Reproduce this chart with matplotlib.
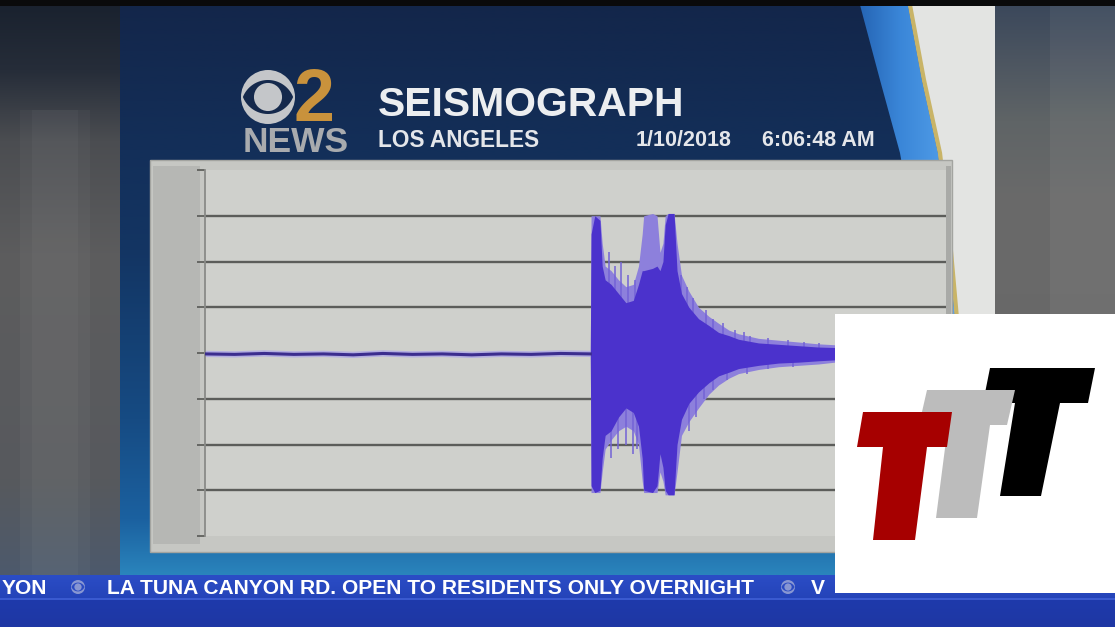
import numpy as np
import matplotlib.pyplot as plt
from matplotlib.patches import Rectangle, Polygon, Circle
from matplotlib.colors import to_rgb

# seismogram, time in s from left edge of the plot, amplitude in grid units
base_t = [0, 4, 8, 12, 16, 20, 24, 28, 32, 36, 40, 44, 48, 52.0]
base_y = [-0.02, -0.03, -0.01, -0.03, -0.02, -0.04, -0.01, -0.03, -0.02,
          -0.04, -0.02, -0.03, -0.01, -0.02]

env_t = [52.0, 52.1, 52.6, 53.3, 53.6, 54.0, 54.8, 55.8, 56.8, 57.8, 58.5,
         59.0, 59.2, 60.4, 61.0, 61.4, 61.8, 62.1, 62.5, 63.3, 63.7, 64.3,
         65.3, 66.6, 68.0, 69.3, 70.7, 72.0, 74.7, 77.4, 80.1, 82.8, 85.0]
outer_hi = [0.05, 3.0, 3.0, 3.0, 2.4, 1.9, 1.8, 1.6, 1.45, 1.5, 1.9,
            2.6, 3.0, 3.05, 3.0, 2.2, 2.4, 3.0, 3.05, 3.05, 2.4, 1.7,
            1.35, 1.0, 0.8, 0.65, 0.5, 0.42, 0.32, 0.28, 0.24, 0.2, 0.18]
outer_lo = [-0.07, -3.05, -3.05, -3.05, -2.6, -2.1, -1.9, -1.7, -1.6, -1.7, -2.0,
            -2.8, -3.05, -3.05, -3.05, -2.6, -2.8, -3.1, -3.1, -3.1, -2.6, -1.8,
            -1.5, -1.2, -0.9, -0.7, -0.55, -0.45, -0.36, -0.3, -0.27, -0.24, -0.2]
core_hi = [0.03, 2.6, 3.0, 2.9, 1.9, 1.6, 1.5, 1.3, 1.1, 1.15, 1.5,
           1.8, 1.8, 1.85, 1.9, 1.8, 2.0, 2.8, 3.05, 3.05, 1.8, 1.3,
           1.0, 0.75, 0.6, 0.45, 0.38, 0.3, 0.22, 0.19, 0.16, 0.13, 0.12]
core_lo = [-0.06, -2.9, -3.05, -3.0, -2.3, -1.8, -1.7, -1.4, -1.2, -1.3, -1.6,
           -2.3, -3.0, -3.05, -2.9, -2.2, -2.5, -3.0, -3.1, -3.1, -2.0, -1.45,
           -1.1, -0.85, -0.65, -0.5, -0.42, -0.34, -0.27, -0.22, -0.2, -0.17, -0.15]

spike_t = [54.5, 55.3, 56.1, 57.1, 58.0, 54.8, 55.8, 56.8, 57.8, 58.3,
           64.3, 65.0, 65.9, 67.6, 68.5, 69.9, 71.5, 72.7, 73.6, 76.0, 78.7,
           80.8, 82.8, 65.3, 66.3, 67.3, 68.6, 70.4, 73.1, 76.0, 79.4]
spike_top = [2.2, 1.9, 2.0, 1.7, 1.6, 0, 0, 0, 0, 0,
             1.7, 1.45, 1.2, 0.95, 0.75, 0.65, 0.5, 0.45, 0.38, 0.32, 0.28,
             0.25, 0.22, 0, 0, 0, 0, 0, 0, 0, 0]
spike_bottom = [0, 0, 0, 0, 0, -2.3, -2.1, -2.0, -2.2, -2.1,
                0, 0, 0, 0, 0, 0, 0, 0, 0, 0, 0,
                0, 0, -1.7, -1.4, -1.0, -0.8, -0.6, -0.45, -0.36, -0.3]

grid_levels = [-3, -2, -1, 1, 2, 3]
tick_levels = [-4, -3, -2, -1, 0, 1, 2, 3, 4]

title = "SEISMOGRAPH"
place = "LOS ANGELES"
date_txt = "1/10/2018"
time_txt = "6:06:48 AM"
ticker_prev = "YON"
ticker_txt = "LA TUNA CANYON RD. OPEN TO RESIDENTS ONLY OVERNIGHT"
ticker_next = "V"

W, H = 1115, 627
FONT = ['Liberation Sans', 'DejaVu Sans']


def vgrad(ax, x0, x1, y0, y1, stops, z=0):
    ys = np.linspace(y0, y1, 300)
    pos = [s[0] for s in stops]
    cols = np.array([to_rgb(s[1]) for s in stops])
    img = np.stack([np.interp(ys, pos, cols[:, k]) for k in range(3)], axis=-1)
    return ax.imshow(img[:, None, :], extent=(x0, x1, y1, y0), aspect='auto',
                     zorder=z, interpolation='bilinear')


def hgrad(ax, x0, x1, y0, y1, stops, z=0):
    xs = np.linspace(x0, x1, 300)
    pos = [s[0] for s in stops]
    cols = np.array([to_rgb(s[1]) for s in stops])
    img = np.stack([np.interp(xs, pos, cols[:, k]) for k in range(3)], axis=-1)
    return ax.imshow(img[None, :, :], extent=(x0, x1, y1, y0), aspect='auto',
                     zorder=z, interpolation='bilinear')


def almond(cx, cy, a, b):
    # two circular arcs meeting at the left and right tips
    r = (a * a + b * b) / (2 * b)
    d = r - b
    th0 = np.arcsin(d / r)
    th = np.linspace(th0, np.pi - th0, 40)
    upper = np.column_stack([cx + r * np.cos(th), cy + d - r * np.sin(th)])
    lower = np.column_stack([cx + r * np.cos(th[::-1]), cy - d + r * np.sin(th[::-1])])
    return np.vstack([upper, lower])


def cbs_eye(ax, cx, cy, r, col, bg, z):
    ax.add_patch(Circle((cx, cy), r, color=col, zorder=z, lw=0))
    ax.add_patch(Polygon(almond(cx, cy, 0.93 * r, 0.63 * r), color=bg, zorder=z + 0.1, lw=0))
    ax.add_patch(Circle((cx, cy), 0.52 * r, color=col, zorder=z + 0.2, lw=0))


fig = plt.figure(figsize=(W / 100, H / 100), dpi=100)

# ---- background (pixel coordinates, y down)
bg = fig.add_axes([0, 0, 1, 1])
bg.axis('off')

vgrad(bg, 0, 120, 0, 575, [(0, '#19212e'), (70, '#262d39'), (140, '#4b4d51'),
                           (260, '#5d5d5e'), (480, '#57595d'), (575, '#4d5a6c')])
for x0, w in [(20, 70), (32, 46)]:
    bg.add_patch(Rectangle((x0, 110), w, 465, color='white', alpha=0.03, lw=0, zorder=1))
vgrad(bg, 995, W, 0, 575, [(0, '#3a475b'), (120, '#5f6466'), (200, '#6a6a6a'),
                           (575, '#666666')])
bg.add_patch(Rectangle((1050, 0), 65, 575, color='white', alpha=0.05, lw=0, zorder=1))
vgrad(bg, 120, 995, 0, 575, [(0, '#13264a'), (250, '#133563'), (420, '#164b83'),
                             (520, '#1b61a0'), (575, '#2a84bc')])

# swoosh on the right of the header
sw_y = np.array([5, 80, 153, 240, 330, 575])
gold_x = np.array([908, 922, 938, 948, 956, 962])
blue_x = np.array([860, 880, 900, 915, 925, 935])
white = Polygon(np.vstack([np.column_stack([gold_x, sw_y]), [[995, 575], [995, 5]]]),
                closed=True, color='#e3e4e2', lw=0, zorder=2)
bg.add_patch(white)
band = Polygon(np.vstack([np.column_stack([blue_x, sw_y]),
                          np.column_stack([gold_x, sw_y])[::-1]]),
               closed=True, transform=bg.transData, fc='none', lw=0)
bg.add_patch(band)
im = hgrad(bg, 855, 965, 0, 575, [(855, '#2361b0'), (900, '#3a86d8'), (965, '#5aa6ee')], z=2)
im.set_clip_path(band)
bg.plot(gold_x + 2, sw_y, color='#c9b467', lw=3, zorder=3, solid_capstyle='butt')

# top black strip
bg.add_patch(Rectangle((0, 0), W, 6, color='#0a0a0b', lw=0, zorder=5))

# ticker
vgrad(bg, 0, W, 575, 600, [(575, '#2b4dc6'), (600, '#2443b8')], z=4)
vgrad(bg, 0, W, 600, H, [(600, '#1f3aab'), (H, '#1e37a4')], z=4)
bg.add_patch(Rectangle((0, 598), W, 2, color='#3a5ad0', lw=0, zorder=4.5))
tk = dict(color='white', fontsize=15.1, fontweight='bold', family=FONT,
          va='baseline', zorder=6)
bg.text(47, 594, ticker_prev, ha='right', **tk)
bg.text(107, 594, ticker_txt, ha='left', **tk)
bg.text(811, 594, ticker_next, ha='left', **tk)
cbs_eye(bg, 78, 587, 7, '#8796d2', '#2a4ac2', 6)
cbs_eye(bg, 788, 587, 7, '#8796d2', '#2a4ac2', 6)

# header logo and titles
cbs_eye(bg, 268, 97, 27, '#c4c6c9', '#15294c', 6)
bg.text(294, 121, "2", color='#c9923c', fontsize=53, fontweight='bold',
        family=FONT, va='baseline', ha='left', zorder=7)
bg.text(243, 152, "NEWS", color='#a9abae', fontsize=25.5, fontweight='bold',
        family=FONT, va='baseline', ha='left', zorder=7)
bg.text(378, 116, title, color='#eceef0', fontsize=29.4, fontweight='bold',
        family=FONT, va='baseline', ha='left', zorder=7)
bg.text(378, 147, place, color='#e4e6ea', fontsize=16.3, fontweight='bold',
        family=FONT, va='baseline', ha='left', zorder=7)
bg.text(636, 146, date_txt, color='#e4e6ea', fontsize=15.5, fontweight='bold',
        family=FONT, va='baseline', ha='left', zorder=7)
bg.text(762, 146, time_txt, color='#e4e6ea', fontsize=15.5, fontweight='bold',
        family=FONT, va='baseline', ha='left', zorder=7)

# chart frame
bg.add_patch(Rectangle((150, 160), 802, 392, fc='#c6c7c3', ec='#a3a4a0', lw=1, zorder=8))
bg.add_patch(Rectangle((153, 166), 47, 378, fc='#b6b7b4', lw=0, zorder=8.5))
bg.add_patch(Rectangle((946, 166), 5, 378, fc='#a9aaa7', lw=0, zorder=8.5))

bg.set_xlim(0, W)
bg.set_ylim(H, 0)

# ---- seismograph plot
ax = fig.add_axes([205 / W, (H - 536) / H, 741 / W, 366 / H])
ax.set_facecolor('#cfd0cc')
ax.set_xlim(0, 100)
ax.set_ylim(-4, 4)
for lvl in grid_levels:
    ax.axhline(lvl, color='#5c5d5a', lw=1.7, zorder=1)
ax.fill_between(env_t, outer_lo, outer_hi, color='#8d80dc', lw=0, zorder=2)
ax.vlines(spike_t, spike_bottom, spike_top, color='#7363d6', lw=1.1, zorder=2.5)
ax.fill_between(env_t, core_lo, core_hi, color='#4b32cc', lw=0, zorder=3)
ax.plot(base_t, base_y, color='#b3aee0', lw=4.5, zorder=2)
ax.plot(base_t, base_y, color='#3b2d8e', lw=2.2, zorder=3)
for side in ['top', 'right', 'bottom']:
    ax.spines[side].set_visible(False)
ax.spines['left'].set_color('#8a8b88')
ax.spines['left'].set_linewidth(1.3)
ax.set_xticks([])
ax.set_yticks(tick_levels)
ax.tick_params(axis='y', length=5.5, width=1.3, color='#5f605d', labelleft=False)

# ---- overlay logo box
top = fig.add_axes([0, 0, 1, 1])
top.axis('off')
top.add_patch(Rectangle((835, 314), 280, 279, color='white', lw=0, zorder=1))
t_black = [(990, 368), (1095, 368), (1088, 403), (1060, 403), (1041, 496),
           (1000, 496), (1015, 403), (983, 403)]
t_gray = [(927, 390), (1015, 390), (1007, 425), (990, 425), (977, 518),
          (936, 518), (948, 425), (919, 425)]
t_red = [(863, 412), (952, 412), (947, 447), (927, 447), (915, 540),
         (873, 540), (883, 447), (857, 447)]
top.add_patch(Polygon(t_black, closed=True, color='#000000', lw=0, zorder=2))
top.add_patch(Polygon(t_gray, closed=True, color='#bcbcbc', lw=0, zorder=3))
top.add_patch(Polygon(t_red, closed=True, color='#a60000', lw=0, zorder=4))
top.set_xlim(0, W)
top.set_ylim(H, 0)

fig.savefig('out.png', dpi=100)
